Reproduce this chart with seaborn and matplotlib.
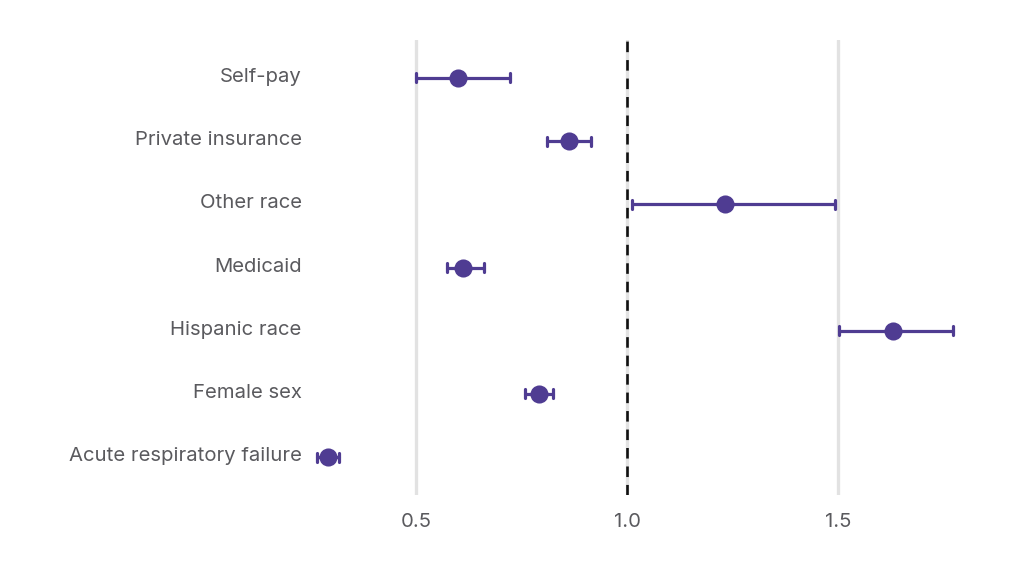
import matplotlib
matplotlib.use("Agg")
import matplotlib.pyplot as plt
import matplotlib.transforms as mtransforms
import seaborn as sns
import pandas as pd

categories = ["Self-pay", "Private insurance", "Other race", "Medicaid",
              "Hispanic race", "Female sex", "Acute respiratory failure"]
estimate = [0.60, 0.862, 1.232, 0.611, 1.631, 0.791, 0.291]
lower = [0.50, 0.811, 1.012, 0.573, 1.502, 0.759, 0.266]
upper = [0.723, 0.914, 1.492, 0.661, 1.772, 0.824, 0.317]
xticks = [0.5, 1.0, 1.5]
xtick_labels = ["0.5", "1.0", "1.5"]

rows = []
for c, lo, m, hi in zip(categories, lower, estimate, upper):
    for v in (lo, m, hi):
        rows.append({"category": c, "value": v})
df = pd.DataFrame(rows)

sns.set_theme(style="white")
plt.rcParams["font.family"] = ["Inter", "DejaVu Sans"]

purple = "#4f3c92"
fig = plt.figure(figsize=(10.24, 5.63), dpi=100)
ax = fig.add_axes([310 / 1024, 1 - 495 / 563, (985 - 310) / 1024, (495 - 40) / 563])

for xv in xticks:
    ax.axvline(xv, color="#e2e2e2", lw=2.4, zorder=0)
ax.axvline(1.0, color="#111111", lw=1.9, ls=(0, (4, 3)), zorder=1)

sns.pointplot(data=df, x="value", y="category", order=categories,
              estimator="median", errorbar=("pi", 100), orient="h",
              linestyle="none", color=purple, markersize=11,
              err_kws={"linewidth": 2.3}, capsize=0.14, ax=ax, zorder=3)

ax.set_xlim(0.249, 1.848)
ax.set_ylim(6.6, -0.6)
ax.set_xticks(xticks)
ax.set_xticklabels(xtick_labels)
ax.set_xlabel("")
ax.set_ylabel("")
for s in ax.spines.values():
    s.set_visible(False)
ax.tick_params(axis="both", length=0, labelsize=14.6, labelcolor="#5a5a5e")
ax.tick_params(axis="x", pad=13)
ax.tick_params(axis="y", pad=6)

shift = mtransforms.ScaledTranslation(0, 3 / 100, fig.dpi_scale_trans)
for lbl in ax.get_yticklabels():
    lbl.set_transform(lbl.get_transform() + shift)

fig.savefig("out.png", dpi=100)
